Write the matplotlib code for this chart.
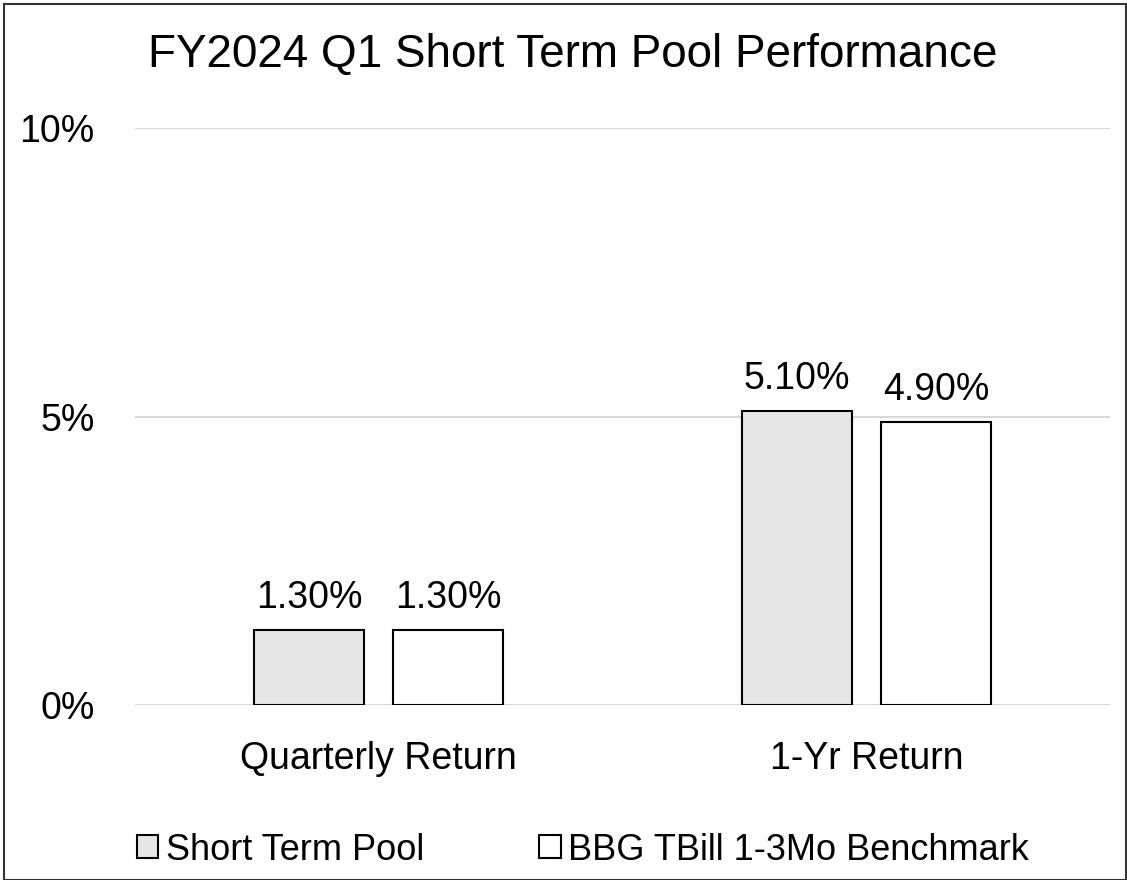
import matplotlib.pyplot as plt
from matplotlib.patches import Rectangle
import numpy as np

# Données du graphique
categories = ["Quarterly Return", "1-Yr Return"]
pool = [1.30, 5.10]
benchmark = [1.30, 4.90]
series_names = ["Short Term Pool", "BBG TBill 1-3Mo Benchmark"]
yticks = [0, 5, 10]

plt.rcParams['font.family'] = ['Liberation Sans', 'DejaVu Sans']
FS = 27

fig = plt.figure(figsize=(11.27, 8.8), dpi=100)
ax = fig.add_axes([135 / 1127, 1 - 705 / 880, 975 / 1127, (705 - 128) / 880])

x = np.arange(len(categories))
w = 0.2256
off = w / 2 + 0.03

b1 = ax.bar(x - off, pool, w, color="#e6e6e6", edgecolor="black", linewidth=1.5, zorder=3)
b2 = ax.bar(x + off, benchmark, w, color="white", edgecolor="black", linewidth=1.5, zorder=3)

# Étiquettes de valeur au-dessus des barres
for bars, vals in ((b1, pool), (b2, benchmark)):
    for r, v in zip(bars, vals):
        ax.annotate(f"{v:.2f}%", (r.get_x() + r.get_width() / 2, v),
                    xytext=(0, 16), textcoords="offset points",
                    ha="center", va="baseline", fontsize=FS)

ax.set_xlim(-0.5, 1.5)
ax.set_ylim(0, 10)
ax.set_yticks(yticks)
ax.set_yticklabels([f"{t}%" for t in yticks], fontsize=FS)
ax.set_xticks(x)
ax.set_xticklabels(categories, fontsize=FS)
ax.tick_params(length=0)
ax.tick_params(axis="x", pad=26)
ax.tick_params(axis="y", pad=29)
ax.grid(axis="y", color="#d9d9d9", linewidth=1.5, zorder=0)
for s in ax.spines.values():
    s.set_visible(False)

fig.text(573 / 1127, 1 - 55 / 880, "FY2024 Q1 Short Term Pool Performance",
         ha="center", va="center", fontsize=33)

leg = fig.legend([b1, b2], series_names, loc="center", bbox_to_anchor=(583 / 1127, 1 - 850 / 880),
                 ncol=2, frameon=False, fontsize=26, handlelength=0.6, handleheight=0.6,
                 handletextpad=0.2, columnspacing=3.2)

fig.patches.append(Rectangle((4 / 1127, 0), 1 - 5 / 1127, 1 - 4 / 880, transform=fig.transFigure,
                             fill=False, edgecolor="#333333", linewidth=1.5))

fig.savefig("out.png", dpi=100)
